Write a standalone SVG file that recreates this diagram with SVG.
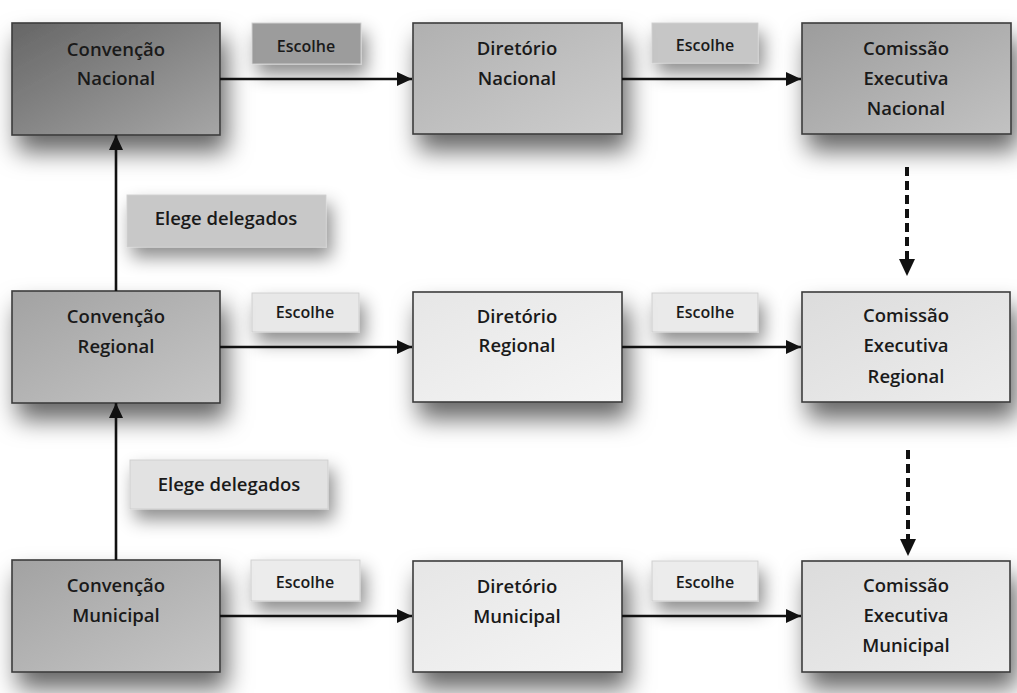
<svg xmlns="http://www.w3.org/2000/svg" width="1017" height="693" viewBox="0 0 1017 693">
<defs>
<filter id="sh" x="-30%" y="-30%" width="170%" height="200%">
<feDropShadow dx="6" dy="16" stdDeviation="12" flood-color="#000" flood-opacity="0.6"/>
</filter>
<filter id="shl" x="-30%" y="-50%" width="170%" height="250%">
<feDropShadow dx="5" dy="10" stdDeviation="9" flood-color="#000" flood-opacity="0.45"/>
</filter>
<linearGradient id="gDark" x1="0" y1="0" x2="1" y2="1"><stop offset="0" stop-color="#666"/><stop offset="1" stop-color="#a6a6a6"/></linearGradient>
<linearGradient id="gMid1" x1="0" y1="0" x2="1" y2="1"><stop offset="0" stop-color="#b0b0b0"/><stop offset="1" stop-color="#cdcdcd"/></linearGradient>
<linearGradient id="gMid2" x1="0" y1="0" x2="1" y2="1"><stop offset="0" stop-color="#9c9c9c"/><stop offset="1" stop-color="#c2c2c2"/></linearGradient>
<linearGradient id="gConv" x1="0" y1="0" x2="1" y2="1"><stop offset="0" stop-color="#a2a2a2"/><stop offset="1" stop-color="#c6c6c6"/></linearGradient>
<linearGradient id="gLight" x1="0" y1="0" x2="1" y2="1"><stop offset="0" stop-color="#e6e6e6"/><stop offset="1" stop-color="#f5f5f5"/></linearGradient>
<linearGradient id="gLight2" x1="0" y1="0" x2="1" y2="1"><stop offset="0" stop-color="#dcdcdc"/><stop offset="1" stop-color="#ededed"/></linearGradient>
<marker id="ah" markerUnits="userSpaceOnUse" markerWidth="16" markerHeight="14" refX="15" refY="7" orient="auto">
<path d="M0,0 L15,7 L0,14 Z" fill="#111"/>
</marker>
</defs>
<style>
.box{stroke:#3c3c3c;stroke-width:1.6}
.lbl{stroke:#cfcfcf;stroke-width:1}
.t{font-family:"Open Sans","Liberation Sans",sans-serif;font-size:18.5px;font-weight:600;fill:#1a1a1a;text-anchor:middle}
.s{font-family:"Open Sans","Liberation Sans",sans-serif;font-size:16px;font-weight:600;fill:#1a1a1a;text-anchor:middle}
.e{font-family:"Open Sans","Liberation Sans",sans-serif;font-size:18.5px;font-weight:600;fill:#1a1a1a;text-anchor:middle}
.c{stroke:#111;stroke-width:2.6;fill:none}
.d{stroke:#111;stroke-width:4;fill:none;stroke-dasharray:9 5}
</style>
<rect width="1017" height="693" fill="#fff"/>

<g id="labels">
<g id="lbl-escolhe-n1"><rect class="lbl" x="252" y="23" width="109" height="41" fill="#9c9c9c" filter="url(#shl)"/><text class="s" x="306" y="52">Escolhe</text></g>
<g id="lbl-escolhe-n2"><rect class="lbl" x="652" y="23" width="106" height="40" fill="#c6c6c6" filter="url(#shl)"/><text class="s" x="705" y="51">Escolhe</text></g>
<g id="lbl-elege-1"><rect class="lbl" x="127" y="195" width="199" height="52" fill="#c8c8c8" filter="url(#shl)"/><text class="e" x="226" y="225">Elege delegados</text></g>
<g id="lbl-escolhe-r1"><rect class="lbl" x="252" y="293" width="107" height="39" fill="#e8e8e8" filter="url(#shl)"/><text class="s" x="305" y="318">Escolhe</text></g>
<g id="lbl-escolhe-r2"><rect class="lbl" x="652" y="293" width="106" height="39" fill="#eaeaea" filter="url(#shl)"/><text class="s" x="705" y="318">Escolhe</text></g>
<g id="lbl-elege-2"><rect class="lbl" x="130" y="460" width="198" height="49" fill="#e2e2e2" filter="url(#shl)"/><text class="e" x="229" y="491">Elege delegados</text></g>
<g id="lbl-escolhe-m1"><rect class="lbl" x="251" y="560" width="109" height="41" fill="#ececec" filter="url(#shl)"/><text class="s" x="305" y="588">Escolhe</text></g>
<g id="lbl-escolhe-m2"><rect class="lbl" x="652" y="561" width="106" height="40" fill="#ececec" filter="url(#shl)"/><text class="s" x="705" y="588">Escolhe</text></g>
</g>

<g id="conv-nacional"><rect class="box" x="12" y="23" width="208" height="112" fill="url(#gDark)" filter="url(#sh)"/><text class="t" x="116" y="56">Convenção</text><text class="t" x="116" y="85">Nacional</text></g>
<g id="dir-nacional"><rect class="box" x="413" y="23" width="209" height="111" fill="url(#gMid1)" filter="url(#sh)"/><text class="t" x="517" y="55">Diretório</text><text class="t" x="517" y="85">Nacional</text></g>
<g id="com-nacional"><rect class="box" x="802" y="23" width="209" height="111" fill="url(#gMid2)" filter="url(#sh)"/><text class="t" x="906" y="55">Comissão</text><text class="t" x="906" y="85">Executiva</text><text class="t" x="906" y="115">Nacional</text></g>

<g id="conv-regional"><rect class="box" x="12" y="291" width="208" height="112" fill="url(#gConv)" filter="url(#sh)"/><text class="t" x="116" y="323">Convenção</text><text class="t" x="116" y="353">Regional</text></g>
<g id="dir-regional"><rect class="box" x="413" y="292" width="209" height="110" fill="url(#gLight)" filter="url(#sh)"/><text class="t" x="517" y="323">Diretório</text><text class="t" x="517" y="352">Regional</text></g>
<g id="com-regional"><rect class="box" x="802" y="292" width="208" height="110" fill="url(#gLight2)" filter="url(#sh)"/><text class="t" x="906" y="322">Comissão</text><text class="t" x="906" y="352">Executiva</text><text class="t" x="906" y="383">Regional</text></g>

<g id="conv-municipal"><rect class="box" x="12" y="560" width="208" height="112" fill="url(#gConv)" filter="url(#sh)"/><text class="t" x="116" y="592">Convenção</text><text class="t" x="116" y="622">Municipal</text></g>
<g id="dir-municipal"><rect class="box" x="413" y="561" width="209" height="111" fill="url(#gLight)" filter="url(#sh)"/><text class="t" x="517" y="593">Diretório</text><text class="t" x="517" y="623">Municipal</text></g>
<g id="com-municipal"><rect class="box" x="802" y="561" width="208" height="111" fill="url(#gLight2)" filter="url(#sh)"/><text class="t" x="906" y="592">Comissão</text><text class="t" x="906" y="622">Executiva</text><text class="t" x="906" y="652">Municipal</text></g>

<g id="connectors">
<line class="c" x1="220" y1="79" x2="412" y2="79" marker-end="url(#ah)"/>
<line class="c" x1="622" y1="79" x2="801" y2="79" marker-end="url(#ah)"/>
<line class="c" x1="220" y1="347" x2="412" y2="347" marker-end="url(#ah)"/>
<line class="c" x1="622" y1="347" x2="801" y2="347" marker-end="url(#ah)"/>
<line class="c" x1="220" y1="616" x2="412" y2="616" marker-end="url(#ah)"/>
<line class="c" x1="622" y1="616" x2="801" y2="616" marker-end="url(#ah)"/>
<line class="c" x1="116" y1="291" x2="116" y2="135" marker-end="url(#ah)"/>
<line class="c" x1="116" y1="560" x2="116" y2="403" marker-end="url(#ah)"/>
<line class="d" x1="907" y1="167" x2="907" y2="262"/>
<path d="M899,259 L915,259 L907,276 Z" fill="#111"/>
<line class="d" x1="908" y1="450" x2="908" y2="542"/>
<path d="M900,539 L916,539 L908,556 Z" fill="#111"/>
</g>
</svg>
